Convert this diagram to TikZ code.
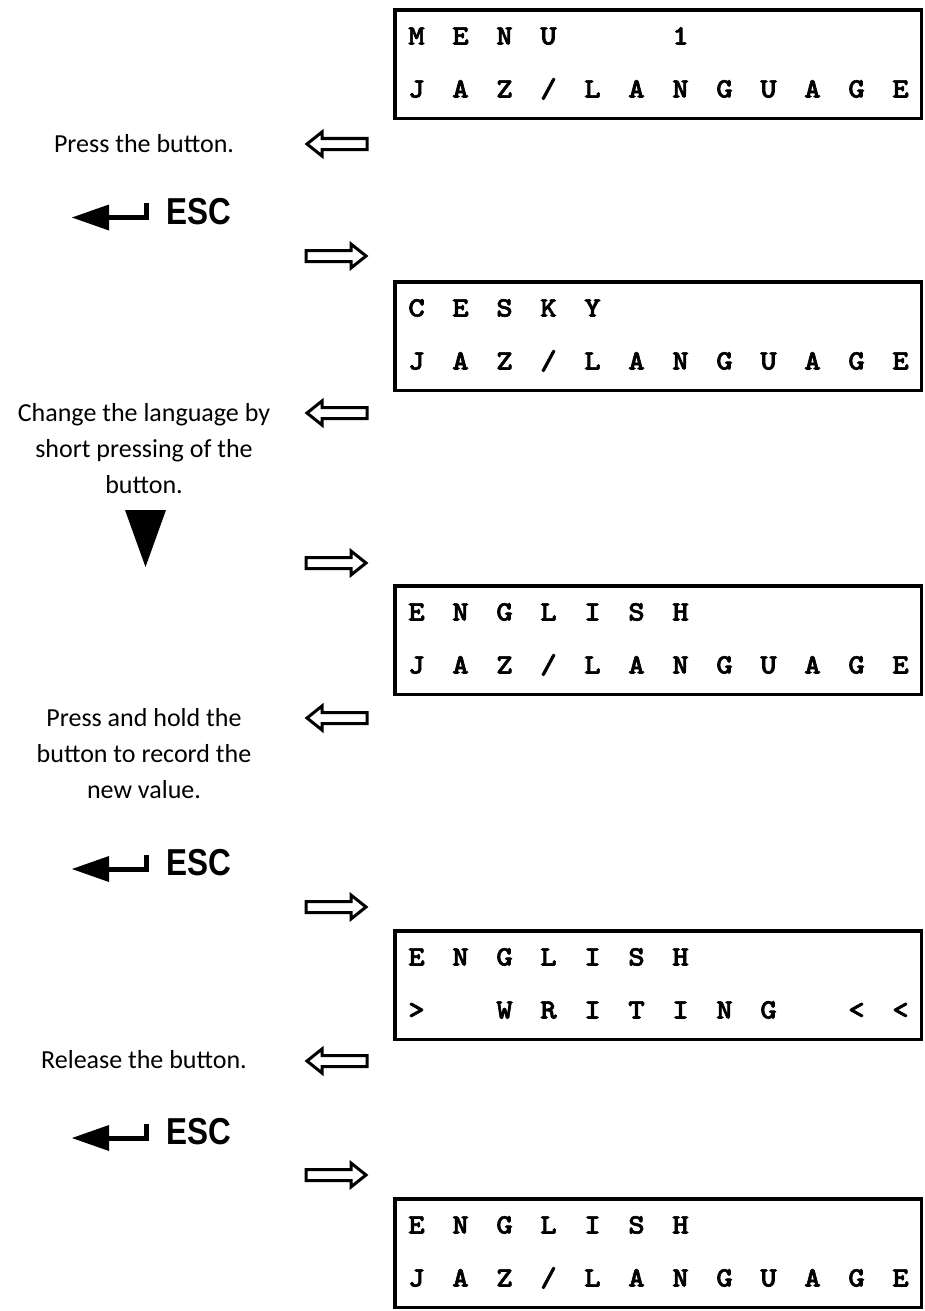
\documentclass[tikz,border=0pt]{standalone}
\usepackage{fontspec}
\setmainfont{Carlito}
\newfontfamily\keyfont{Liberation Sans}[FakeStretch=0.84]
\newfontfamily\lcdfont{lmmonolt10-bold.otf}[FakeBold=2.2,FakeStretch=1.12]
\usetikzlibrary{calc,positioning}
\tikzset{
	%Define style for display boxes
	lcd/.style={
		rectangle,
		draw=black, line width=3.5pt,
		outer sep=0pt, inner sep=0pt,
		minimum width=526.5pt,
		minimum height=108.5pt},
	lcdchar/.style={anchor=base, inner sep=0pt,
		font=\lcdfont\fontsize{28}{28}\selectfont},
	%Define style for the notes
	note/.style={align=center, inner sep=0pt,
		font=\fontsize{26}{36}\selectfont},
	keylabel/.style={inner sep=0pt,
		font=\keyfont\bfseries\fontsize{37.5}{37.5}\selectfont},
	% Define hollow arrow style
	hollow/.style={draw=black, line width=3pt, line join=miter, fill=white},
	pics/leftarr/.style={code={
		\draw[hollow] (-29,0) -- (-14,-12) -- (-14,-5.5) -- (31,-5.5) -- (31,5.5) -- (-14,5.5) -- (-14,12) -- cycle;}},
	pics/rightarr/.style={code={
		\draw[hollow] (29,0) -- (14,-12) -- (14,-5.5) -- (-31,-5.5) -- (-31,5.5) -- (14,5.5) -- (14,12) -- cycle;}},
	pics/esckey/.style={code={
		\node[keylabel] (-lbl) {ESC};
		\fill (-126.5,6) -- (-89.5,-7) -- (-89.5,19) -- cycle;
		\draw[line width=5pt] (-90,6) -- (-52.5,6) -- (-52.5,-8.5);}}
}
% one row of characters on a display
\newcommand{\lcdrow}[3]{%
	\foreach \ch [count=\i from 0] in {#3}
		\node[lcdchar] (#1-#2-\i) at ($(#1.north west)+(21.5+44*\i,{34.5+53*(#2-1)})$) {\ch};}

\begin{document}
\begin{tikzpicture}[x=1pt,y=-1pt]
	\useasboundingbox (0,0) rectangle (924,1311);
	% displays
	\node[lcd] (lcd1) at (658.25,64.25) {};
	\node[lcd] (lcd2) at (658.25,336.25) {};
	\node[lcd] (lcd3) at (658.25,640.25) {};
	\node[lcd] (lcd4) at (658.25,985.25) {};
	\node[lcd] (lcd5) at (658.25,1253.25) {};
	\lcdrow{lcd1}{1}{M,E,N,U,,,1}
	\lcdrow{lcd1}{2}{J,A,Z,/,L,A,N,G,U,A,G,E}
	\lcdrow{lcd2}{1}{C,E,S,K,Y}
	\lcdrow{lcd2}{2}{J,A,Z,/,L,A,N,G,U,A,G,E}
	\lcdrow{lcd3}{1}{E,N,G,L,I,S,H}
	\lcdrow{lcd3}{2}{J,A,Z,/,L,A,N,G,U,A,G,E}
	\lcdrow{lcd4}{1}{E,N,G,L,I,S,H}
	\lcdrow{lcd4}{2}{>,,W,R,I,T,I,N,G,,<,<}
	\lcdrow{lcd5}{1}{E,N,G,L,I,S,H}
	\lcdrow{lcd5}{2}{J,A,Z,/,L,A,N,G,U,A,G,E}
	% notes
	\node[note] (note1) at (144,144) {Press the button.};
	\node[note] (note2) at (144,449) {Change the language by\\short pressing of the\\button.};
	\node[note] (note3) at (144,754) {Press and hold the\\button to record the\\new value.};
	\node[note] (note4) at (144,1060) {Release the button.};
	% hollow arrows
	\pic (back1) at (336,144) {leftarr};
	\pic (back2) at (336,413) {leftarr};
	\pic (back3) at (336,718) {leftarr};
	\pic (back4) at (336,1061) {leftarr};
	\pic (next1) at (337,256) {rightarr};
	\pic (next2) at (337,563) {rightarr};
	\pic (next3) at (337,907) {rightarr};
	\pic (next4) at (337,1175) {rightarr};
	% keys
	\pic (esc1) at (198.5,211.5) {esckey};
	\pic (esc2) at (198.5,863) {esckey};
	\pic (esc3) at (198.5,1132) {esckey};
	\fill (125,510) -- (166,510) -- (145.5,567) -- cycle;
\end{tikzpicture}
\end{document}
